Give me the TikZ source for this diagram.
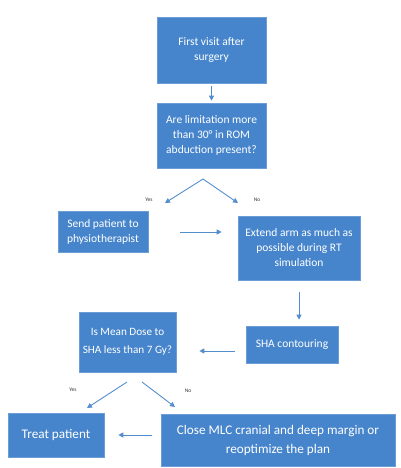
\documentclass[tikz,border=0pt]{standalone}
\usepackage{fontspec}
\setmainfont{Carlito}
\usepackage{tikz}
\usetikzlibrary{arrows.meta, positioning, calc}
\definecolor{flowblue}{RGB}{70,133,204}
\definecolor{flowarrow}{RGB}{84,141,204}

\begin{document}
\begin{tikzpicture}[
    x=1pt, y=-1pt,
    box/.style={rectangle, fill=flowblue, draw=flowblue!80!white, line width=0.6pt,
                text=white, align=center, inner sep=2pt,
                font=\fontsize{11.5}{15}\selectfont},
    bigbox/.style={box, font=\fontsize{13.2}{19}\selectfont},
    arrow/.style={-{Triangle[length=5pt, width=5pt]}, line width=0.9pt, color=flowarrow},
    answer/.style={font=\fontsize{5.5}{6}\selectfont, text=black!80}
  ]
    \useasboundingbox (0,0) rectangle (400,468);
    \node[box, minimum width=109pt, minimum height=66pt] (first)  at (211.5,50)   {First visit after\\surgery};
    \node[box, minimum width=109pt, minimum height=65pt] (limit)  at (211.5,135.5) {Are limitation more\\than 30° in ROM\\abduction present?};
    \node[box, minimum width=90pt,  minimum height=41pt] (send)   at (103,231.5)  {Send patient to\\physiotherapist};
    \node[box, minimum width=122pt, minimum height=64pt] (extend) at (299,248)    {Extend arm as much as\\possible during RT\\simulation};
    \node[box, minimum width=92pt,  minimum height=37pt] (sha)    at (292,344.5)  {SHA contouring};
    \node[box, minimum width=97pt,  minimum height=60pt,
          font=\fontsize{11.2}{18}\selectfont]        (dose)   at (127.5,342)  {Is Mean Dose to\\SHA less than 7 Gy?};
    \node[bigbox, minimum width=96pt,  minimum height=44pt] (treat) at (56,435)  {Treat patient};
    \node[bigbox, minimum width=234pt, minimum height=52pt] (close) at (278,440)  {Close MLC cranial and deep margin or\\reoptimize the plan};
    % forks
    \coordinate (forkA) at (203,179);
    \coordinate (yesA)  at (165,203);
    \coordinate (noA)   at (238,203);
    \coordinate (forkBl) at (127,382);
    \coordinate (yesB)   at (87,408);
    \coordinate (forkBr) at (142,382);
    \coordinate (noB)    at (175,407);
    \node[answer] (yesAlabel) at (149,200) {Yes};
    \node[answer] (noAlabel)  at (257,200) {No};
    \node[answer] (yesBlabel) at (73,390)  {Yes};
    \node[answer] (noBlabel)  at (188,391) {No};
    % connectors
    \draw[arrow, shorten <=3pt, shorten >=2pt] (first) -- (limit);
    \draw[arrow] (forkA) -- (yesA);
    \draw[arrow] (forkA) -- (noA);
    \draw[arrow, shorten <=32pt, shorten >=16pt] ($(send.east)+(0,0.5)$) -- ($(send.east -| extend.west)+(0,0.5)$);
    \draw[arrow, shorten <=12pt, shorten >=6pt] (extend.south) -- (extend.south |- sha.north);
    \draw[arrow, shorten <=11pt, shorten >=23pt] ($(sha.west)+(0,6.5)$) -- ($(sha.west -| dose.east)+(0,6.5)$);
    \draw[arrow] (forkBl) -- (yesB);
    \draw[arrow] (forkBr) -- (noB);
    \draw[arrow, shorten <=9pt, shorten >=14pt] ($(close.west)+(0,-5)$) -- ($(close.west -| treat.east)+(0,-5)$);
  \end{tikzpicture}
\end{document}
